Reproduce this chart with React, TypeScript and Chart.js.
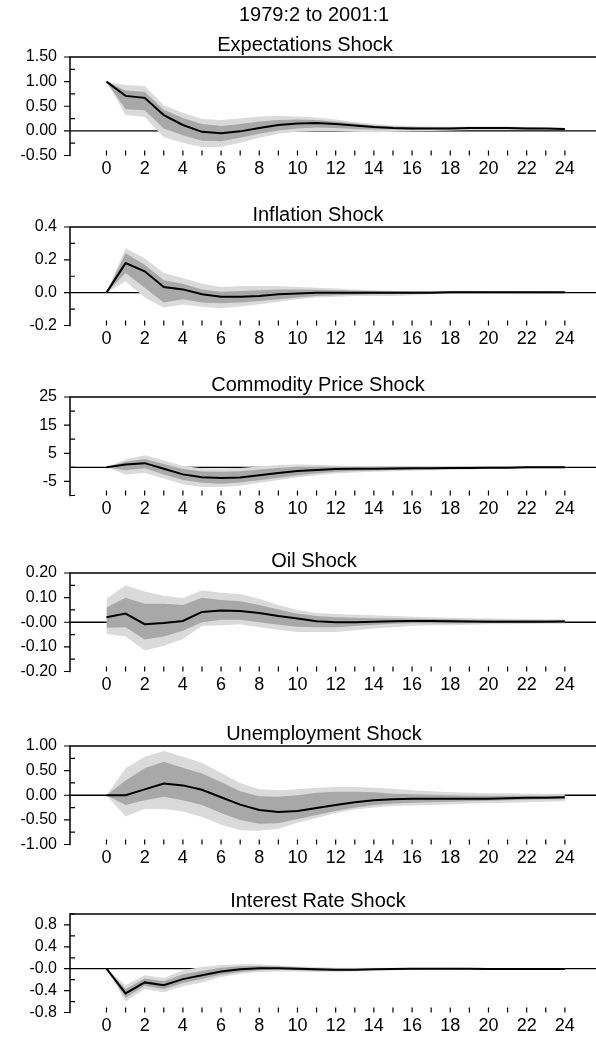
import React, { useEffect, useRef } from "react";
import { Chart, registerables } from "chart.js";

Chart.register(...registerables);

const FONT = "'Liberation Sans', Arial, Helvetica, sans-serif";

const MAIN_TITLE = "1979:2 to 2001:1";
const HORIZONS = [0, 1, 2, 3, 4, 5, 6, 7, 8, 9, 10, 11, 12, 13, 14, 15, 16, 17, 18, 19, 20, 21, 22, 23, 24];
const X_LABEL_TICKS = [0, 2, 4, 6, 8, 10, 12, 14, 16, 18, 20, 22, 24];

// Panel 1: Expectations Shock
const expTitle = "Expectations Shock";
const expLine = [1.0, 0.71, 0.67, 0.32, 0.12, -0.02, -0.05, -0.01, 0.06, 0.12, 0.15, 0.16, 0.14, 0.11, 0.08, 0.06, 0.05, 0.05, 0.05, 0.06, 0.06, 0.06, 0.05, 0.05, 0.04];
const expOuterHi = [1.0, 0.93, 0.91, 0.52, 0.37, 0.24, 0.22, 0.25, 0.29, 0.3, 0.29, 0.27, 0.23, 0.18, 0.14, 0.11, 0.1, 0.09, 0.09, 0.09, 0.09, 0.09, 0.08, 0.07, 0.06];
const expOuterLo = [1.0, 0.32, 0.28, -0.13, -0.24, -0.33, -0.32, -0.24, -0.14, -0.06, -0.02, 0.0, 0.0, -0.02, -0.03, -0.02, -0.01, 0.0, 0.01, 0.02, 0.02, 0.02, 0.02, 0.02, 0.02];
const expInnerHi = [1.0, 0.82, 0.79, 0.43, 0.26, 0.14, 0.1, 0.14, 0.19, 0.22, 0.23, 0.22, 0.19, 0.15, 0.11, 0.09, 0.08, 0.07, 0.07, 0.07, 0.07, 0.07, 0.07, 0.06, 0.05];
const expInnerLo = [1.0, 0.44, 0.42, 0.05, -0.09, -0.2, -0.21, -0.14, -0.06, 0.01, 0.05, 0.07, 0.06, 0.04, 0.03, 0.03, 0.02, 0.03, 0.03, 0.04, 0.04, 0.04, 0.03, 0.03, 0.03];
const expYRange = [-0.5, 1.5];
const expYMajor = [1.5, 1.0, 0.5, 0.0, -0.5];
const expYLabels = ["1.50", "1.00", "0.50", "0.00", "-0.50"];
const expYMinor = [1.25, 0.75, 0.25, -0.25];

// Panel 2: Inflation Shock
const infTitle = "Inflation Shock";
const infLine = [0.0, 0.18, 0.13, 0.035, 0.02, -0.01, -0.025, -0.025, -0.02, -0.01, -0.005, 0.0, 0.0, 0.0, 0.0, 0.0, 0.0, 0.0, 0.002, 0.002, 0.002, 0.002, 0.002, 0.002, 0.002];
const infOuterHi = [0.0, 0.27, 0.21, 0.12, 0.09, 0.055, 0.035, 0.04, 0.04, 0.04, 0.035, 0.03, 0.025, 0.02, 0.015, 0.012, 0.01, 0.01, 0.012, 0.012, 0.01, 0.01, 0.008, 0.008, 0.007];
const infOuterLo = [0.0, 0.07, -0.03, -0.09, -0.072, -0.086, -0.095, -0.085, -0.07, -0.055, -0.04, -0.03, -0.025, -0.02, -0.02, -0.02, -0.015, -0.01, -0.005, -0.005, -0.003, -0.003, -0.003, -0.002, -0.002];
const infInnerHi = [0.0, 0.24, 0.17, 0.075, 0.055, 0.02, 0.005, 0.01, 0.015, 0.02, 0.02, 0.018, 0.015, 0.012, 0.01, 0.008, 0.007, 0.007, 0.008, 0.008, 0.007, 0.006, 0.005, 0.005, 0.005];
const infInnerLo = [0.0, 0.12, 0.03, -0.06, -0.04, -0.06, -0.065, -0.06, -0.05, -0.04, -0.03, -0.02, -0.015, -0.012, -0.01, -0.01, -0.008, -0.005, -0.003, -0.002, -0.002, -0.002, -0.002, -0.002, -0.002];
const infYRange = [-0.2, 0.4];
const infYMajor = [0.4, 0.2, 0.0, -0.2];
const infYLabels = ["0.4", "0.2", "0.0", "-0.2"];
const infYMinor = [0.3, 0.1, -0.1];

// Panel 3: Commodity Price Shock
const comTitle = "Commodity Price Shock";
const comLine = [0.0, 1.0, 1.5, -0.5, -2.5, -3.5, -3.8, -3.6, -2.8, -2.0, -1.3, -0.9, -0.6, -0.5, -0.5, -0.4, -0.3, -0.3, -0.2, -0.2, -0.1, -0.1, 0.0, 0.0, 0.0];
const comOuterHi = [0.0, 2.8, 4.3, 2.5, 0.5, -0.3, -0.4, -0.2, 0.3, 0.8, 1.0, 0.9, 0.7, 0.5, 0.4, 0.3, 0.3, 0.3, 0.3, 0.2, 0.2, 0.2, 0.2, 0.2, 0.2];
const comOuterLo = [0.0, -2.5, -2.0, -4.0, -6.0, -7.0, -7.0, -6.5, -5.5, -4.5, -3.5, -2.8, -2.2, -1.8, -1.6, -1.4, -1.2, -1.0, -0.9, -0.8, -0.6, -0.5, -0.4, -0.3, -0.3];
const comInnerHi = [0.0, 2.0, 3.0, 1.2, -0.6, -1.5, -1.6, -1.4, -0.8, -0.2, 0.2, 0.2, 0.2, 0.1, 0.0, 0.0, 0.1, 0.1, 0.1, 0.1, 0.1, 0.1, 0.1, 0.1, 0.1];
const comInnerLo = [0.0, -1.0, -0.3, -2.5, -4.5, -5.5, -5.8, -5.4, -4.6, -3.7, -2.8, -2.1, -1.6, -1.3, -1.1, -0.9, -0.8, -0.7, -0.6, -0.5, -0.4, -0.3, -0.2, -0.2, -0.2];
const comYRange = [-10, 25];
const comYMajor = [25, 15, 5, -5];
const comYLabels = ["25", "15", "5", "-5"];
const comYMinor = [20, 10, 0, -10];

// Panel 4: Oil Shock
const oilTitle = "Oil Shock";
const oilLine = [0.02, 0.035, -0.008, -0.003, 0.005, 0.042, 0.048, 0.046, 0.038, 0.025, 0.015, 0.004, 0.0, 0.0, 0.002, 0.004, 0.005, 0.005, 0.004, 0.003, 0.002, 0.002, 0.002, 0.002, 0.003];
const oilOuterHi = [0.095, 0.15, 0.125, 0.108, 0.098, 0.13, 0.12, 0.115, 0.095, 0.07, 0.05, 0.038, 0.033, 0.03, 0.028, 0.025, 0.022, 0.02, 0.018, 0.016, 0.015, 0.014, 0.013, 0.012, 0.012];
const oilOuterLo = [-0.048, -0.058, -0.115, -0.095, -0.068, -0.015, -0.012, -0.008, -0.02, -0.03, -0.04, -0.04, -0.04, -0.032, -0.025, -0.02, -0.015, -0.012, -0.012, -0.01, -0.008, -0.008, -0.007, -0.006, -0.006];
const oilInnerHi = [0.06, 0.1, 0.075, 0.075, 0.07, 0.1, 0.09, 0.085, 0.07, 0.052, 0.035, 0.025, 0.02, 0.018, 0.016, 0.015, 0.014, 0.013, 0.012, 0.01, 0.01, 0.009, 0.009, 0.009, 0.009];
const oilInnerLo = [-0.022, -0.02, -0.07, -0.058, -0.035, 0.0, 0.01, 0.01, 0.0, -0.01, -0.018, -0.02, -0.02, -0.015, -0.01, -0.006, -0.004, -0.004, -0.005, -0.004, -0.003, -0.003, -0.003, -0.002, -0.002];
const oilYRange = [-0.2, 0.2];
const oilYMajor = [0.2, 0.1, 0.0, -0.1, -0.2];
const oilYLabels = ["0.20", "0.10", "-0.00", "-0.10", "-0.20"];
const oilYMinor = [0.15, 0.05, -0.05, -0.15];

// Panel 5: Unemployment Shock
const unTitle = "Unemployment Shock";
const unLine = [0.0, 0.0, 0.12, 0.24, 0.2, 0.11, -0.04, -0.19, -0.3, -0.34, -0.32, -0.26, -0.2, -0.14, -0.1, -0.08, -0.07, -0.07, -0.07, -0.07, -0.07, -0.06, -0.05, -0.05, -0.04];
const unOuterHi = [0.0, 0.55, 0.78, 0.9, 0.78, 0.66, 0.45, 0.25, 0.12, 0.1, 0.12, 0.15, 0.17, 0.17, 0.15, 0.13, 0.1, 0.08, 0.06, 0.05, 0.04, 0.04, 0.03, 0.03, 0.03];
const unOuterLo = [0.0, -0.43, -0.28, -0.28, -0.33, -0.44, -0.6, -0.71, -0.72, -0.68, -0.56, -0.46, -0.36, -0.29, -0.25, -0.22, -0.21, -0.2, -0.19, -0.17, -0.16, -0.15, -0.14, -0.13, -0.12];
const unInnerHi = [0.0, 0.3, 0.55, 0.68, 0.56, 0.44, 0.27, 0.08, -0.02, -0.03, 0.0, 0.05, 0.07, 0.07, 0.06, 0.03, 0.02, 0.01, 0.0, -0.01, -0.01, -0.01, -0.01, -0.01, -0.01];
const unInnerLo = [0.0, -0.2, -0.1, -0.03, -0.1, -0.2, -0.36, -0.5, -0.58, -0.57, -0.48, -0.4, -0.32, -0.25, -0.2, -0.17, -0.15, -0.14, -0.13, -0.12, -0.11, -0.1, -0.09, -0.08, -0.08];
const unYRange = [-1, 1];
const unYMajor = [1, 0.5, 0, -0.5, -1];
const unYLabels = ["1.00", "0.50", "0.00", "-0.50", "-1.00"];
const unYMinor = [0.75, 0.25, -0.25, -0.75];

// Panel 6: Interest Rate Shock
const irTitle = "Interest Rate Shock";
const irLine = [0.0, -0.45, -0.25, -0.3, -0.19, -0.12, -0.05, -0.01, 0.01, 0.01, 0.0, -0.01, -0.02, -0.02, -0.01, -0.005, 0.0, 0.0, 0.0, 0.0, -0.005, -0.005, -0.005, -0.005, -0.005];
const irOuterHi = [0.0, -0.3, -0.12, -0.17, -0.03, 0.03, 0.07, 0.08, 0.08, 0.06, 0.04, 0.03, 0.02, 0.02, 0.02, 0.02, 0.02, 0.02, 0.02, 0.015, 0.01, 0.01, 0.01, 0.01, 0.01];
const irOuterLo = [0.0, -0.6, -0.37, -0.43, -0.32, -0.25, -0.15, -0.09, -0.06, -0.05, -0.05, -0.06, -0.06, -0.05, -0.04, -0.03, -0.02, -0.02, -0.02, -0.02, -0.02, -0.02, -0.02, -0.02, -0.02];
const irInnerHi = [0.0, -0.37, -0.18, -0.23, -0.1, -0.04, 0.02, 0.045, 0.05, 0.04, 0.025, 0.01, 0.0, 0.0, 0.005, 0.008, 0.01, 0.01, 0.01, 0.008, 0.005, 0.002, 0.002, 0.002, 0.002];
const irInnerLo = [0.0, -0.53, -0.31, -0.37, -0.26, -0.19, -0.11, -0.06, -0.03, -0.02, -0.03, -0.04, -0.04, -0.035, -0.025, -0.018, -0.012, -0.01, -0.01, -0.012, -0.012, -0.012, -0.012, -0.012, -0.012];
const irYRange = [-0.8, 1.0];
const irYMajor = [0.8, 0.4, 0.0, -0.4, -0.8];
const irYLabels = ["0.8", "0.4", "-0.0", "-0.4", "-0.8"];
const irYMinor = [1.0, 0.6, 0.2, -0.2, -0.6];

type PanelCfg = {
  title: string;
  line: number[];
  outerHi: number[];
  outerLo: number[];
  innerHi: number[];
  innerLo: number[];
  yRange: number[];
  yMajor: number[];
  yLabels: string[];
  yMinor: number[];
};

const PANELS: PanelCfg[] = [
  { title: expTitle, line: expLine, outerHi: expOuterHi, outerLo: expOuterLo, innerHi: expInnerHi, innerLo: expInnerLo, yRange: expYRange, yMajor: expYMajor, yLabels: expYLabels, yMinor: expYMinor },
  { title: infTitle, line: infLine, outerHi: infOuterHi, outerLo: infOuterLo, innerHi: infInnerHi, innerLo: infInnerLo, yRange: infYRange, yMajor: infYMajor, yLabels: infYLabels, yMinor: infYMinor },
  { title: comTitle, line: comLine, outerHi: comOuterHi, outerLo: comOuterLo, innerHi: comInnerHi, innerLo: comInnerLo, yRange: comYRange, yMajor: comYMajor, yLabels: comYLabels, yMinor: comYMinor },
  { title: oilTitle, line: oilLine, outerHi: oilOuterHi, outerLo: oilOuterLo, innerHi: oilInnerHi, innerLo: oilInnerLo, yRange: oilYRange, yMajor: oilYMajor, yLabels: oilYLabels, yMinor: oilYMinor },
  { title: unTitle, line: unLine, outerHi: unOuterHi, outerLo: unOuterLo, innerHi: unInnerHi, innerLo: unInnerLo, yRange: unYRange, yMajor: unYMajor, yLabels: unYLabels, yMinor: unYMinor },
  { title: irTitle, line: irLine, outerHi: irOuterHi, outerLo: irOuterLo, innerHi: irInnerHi, innerLo: irInnerLo, yRange: irYRange, yMajor: irYMajor, yLabels: irYLabels, yMinor: irYMinor },
];

// layout (pixels)
const PANEL_TOPS = [57, 227, 397, 573, 746, 914];
const TITLE_CENTERS_Y = [43.5, 213.5, 383.5, 560, 733, 900];
const TITLE_CENTERS_X = [305, 318, 318, 314, 324, 318];
const MAIN_TITLE_POS = { x: 314, y: 14 };
const TOP_PAD = 24;
const PLOT_H = 98.5;
const XAXIS_H = 26.5;
const YAXIS_W = 70;
const X_MIN = -1.91;
const X_MAX = 25.63;

const LIGHT = "#dadada";
const DARK = "#a8a8a8";

const axesPlugin = {
  id: "irfAxes",
  beforeDatasetsDraw(chart: any) {
    const { ctx, chartArea } = chart;
    const y0 = chart.scales.y.getPixelForValue(0);
    ctx.save();
    ctx.strokeStyle = "#000";
    ctx.lineWidth = 1.3;
    ctx.beginPath();
    ctx.moveTo(chartArea.left, y0);
    ctx.lineTo(chartArea.right, y0);
    ctx.stroke();
    ctx.restore();
  },
  afterDraw(chart: any, _args: any, opts: any) {
    const { ctx, chartArea } = chart;
    const { left, right, top, bottom } = chartArea;
    const xs = chart.scales.x;
    const ys = chart.scales.y;
    ctx.save();
    ctx.strokeStyle = "#000";
    ctx.lineWidth = 1.5;
    ctx.beginPath();
    ctx.moveTo(left, top);
    ctx.lineTo(right, top);
    ctx.moveTo(left, top - 0.75);
    ctx.lineTo(left, bottom + 0.75);
    ctx.stroke();
    ctx.lineWidth = 1.2;
    ctx.beginPath();
    for (const v of opts.xMarks) {
      const px = xs.getPixelForValue(v);
      ctx.moveTo(px, bottom);
      ctx.lineTo(px, bottom - 5);
    }
    for (const v of opts.major) {
      const py = ys.getPixelForValue(v);
      ctx.moveTo(left - 6, py);
      ctx.lineTo(left, py);
    }
    for (const v of opts.minor) {
      const py = ys.getPixelForValue(v);
      ctx.moveTo(left, py);
      ctx.lineTo(left + 5, py);
    }
    ctx.stroke();
    ctx.restore();
  },
};

function pts(vals: number[]) {
  return HORIZONS.map((h, i) => ({ x: h, y: vals[i] }));
}

const titleStyle = (cx: number, cy: number, size: number): React.CSSProperties => ({
  position: "absolute",
  left: cx - 200,
  top: cy - 12,
  width: 400,
  height: 24,
  lineHeight: "24px",
  textAlign: "center",
  fontFamily: FONT,
  fontSize: size,
  color: "#000",
  whiteSpace: "nowrap",
});

function Panel({ cfg, index }: { cfg: PanelCfg; index: number }) {
  const ref = useRef<HTMLCanvasElement | null>(null);
  const canvasTop = PANEL_TOPS[index] - TOP_PAD;
  const height = Math.round(TOP_PAD + PLOT_H + XAXIS_H);

  useEffect(() => {
    if (!ref.current) return;
    const band = (data: number[], color: string, fill: any) => ({
      data: pts(data),
      borderWidth: 0,
      borderColor: color,
      backgroundColor: color,
      pointRadius: 0,
      fill,
      tension: 0,
    });
    const chart = new Chart(ref.current, {
      type: "line",
      data: {
        datasets: [
          {
            data: pts(cfg.line),
            borderColor: "#000",
            borderWidth: 2,
            pointRadius: 0,
            fill: false,
            tension: 0,
          },
          band(cfg.innerHi, DARK, "+1"),
          band(cfg.innerLo, DARK, false),
          band(cfg.outerHi, LIGHT, "+1"),
          band(cfg.outerLo, LIGHT, false),
        ] as any,
      },
      options: {
        animation: false,
        responsive: false,
        devicePixelRatio: window.devicePixelRatio || 1,
        events: [],
        layout: { padding: { left: 0, right: 0, top: TOP_PAD, bottom: 0 } },
        plugins: {
          legend: { display: false },
          tooltip: { enabled: false },
          title: { display: false },
          irfAxes: { xMarks: HORIZONS, major: cfg.yMajor, minor: cfg.yMinor },
        } as any,
        scales: {
          x: {
            type: "linear",
            min: X_MIN,
            max: X_MAX,
            grid: { display: false, drawTicks: false },
            border: { display: false },
            ticks: {
              autoSkip: false,
              maxRotation: 0,
              padding: 3,
              color: "#000",
              font: { family: FONT, size: 18 },
              callback: (v: any) => String(v),
            },
            afterBuildTicks: (s: any) => {
              s.ticks = X_LABEL_TICKS.map((v) => ({ value: v }));
            },
            afterFit: (s: any) => {
              s.height = XAXIS_H;
            },
          },
          y: {
            type: "linear",
            min: cfg.yRange[0],
            max: cfg.yRange[1],
            grid: { display: false, drawTicks: false },
            border: { display: false },
            ticks: {
              autoSkip: false,
              padding: 13,
              color: "#000",
              font: { family: FONT, size: 16 },
              callback: (_v: any, i: number) => cfg.yLabels[i],
            },
            afterBuildTicks: (s: any) => {
              s.ticks = cfg.yMajor.map((v) => ({ value: v }));
            },
            afterFit: (s: any) => {
              s.width = YAXIS_W;
            },
          },
        } as any,
      },
      plugins: [axesPlugin as any],
    });
    return () => chart.destroy();
  }, [cfg]);

  return (
    <>
      <canvas
        ref={ref}
        width={596}
        height={height}
        style={{ position: "absolute", left: 0, top: canvasTop, width: 596, height }}
      />
      <div style={titleStyle(TITLE_CENTERS_X[index], TITLE_CENTERS_Y[index], 20)}>{cfg.title}</div>
    </>
  );
}

export default function App() {
  return (
    <div style={{ position: "absolute", left: 0, top: 0, width: 596, height: 1040, background: "#fff", overflow: "hidden" }}>
      {PANELS.map((p, i) => (
        <Panel key={i} cfg={p} index={i} />
      ))}
      <div style={titleStyle(MAIN_TITLE_POS.x, MAIN_TITLE_POS.y, 20)}>{MAIN_TITLE}</div>
    </div>
  );
}
